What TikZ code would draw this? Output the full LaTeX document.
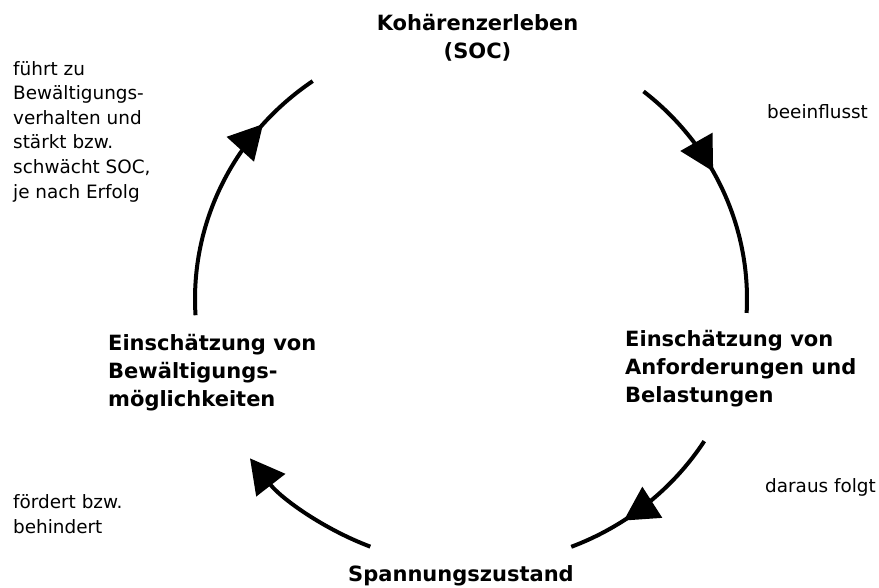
\documentclass[tikz,border=0pt]{standalone}
\usepackage{fontspec}
\setmainfont{DejaVu Sans}
\usetikzlibrary{arrows.meta,decorations.markings}
\tikzset{tri/.tip={Triangle[length=34pt,width=36pt]}}

\begin{document}
\begin{tikzpicture}[x=1pt,y=-1pt,
    head/.style={font=\fontsize{21pt}{28pt}\selectfont\bfseries,inner sep=0pt,align=left},
    note/.style={font=\fontsize{18.4pt}{24.6pt}\selectfont,inner sep=0pt,align=left},
    cyc/.style={line width=4pt},
    midtip/.style={postaction={decorate},decoration={markings,mark=at position #1 with {\arrow{tri}}}}]
  \useasboundingbox (0,0) rectangle (879,587);
  \coordinate (m) at (471,299);
  % the four stations of the cycle
  \node[head,align=center,anchor=base] (soc) at (477.5,58) {Kohärenzerleben\\(SOC)};
  \node[head,anchor=base west] (anf) at (625,402) {Einschätzung von\\Anforderungen und\\Belastungen};
  \node[head,anchor=base] (span) at (461,581) {Spannungszustand};
  \node[head,anchor=base west] (bew) at (108,406) {Einschätzung von\\Bewältigungs-\\möglichkeiten};
  % labels beside the arcs
  \node[note,anchor=base west] (lbeein) at (767,118) {beeinflusst};
  \node[note,anchor=base west] (lfolgt) at (765,492) {daraus folgt};
  \node[note,anchor=base west] (lfoerd) at (13,533) {fördert bzw.\\behindert};
  \node[note,anchor=base west] (lfuehrt) at (13,198) {führt zu\\Bewältigungs-\\verhalten und\\stärkt bzw.\\schwächt SOC,\\je nach Erfolg};
  % arcs round the centre m
  \draw[cyc,midtip=0.42] ([shift={(-51.3:276 and 266)}]m) arc[start angle=-51.3,end angle=3,x radius=276,y radius=266];
  \draw[cyc,midtip=0.66] ([shift={(32.3:276 and 266)}]m) arc[start angle=32.3,end angle=68.7,x radius=276,y radius=266];
  \draw[cyc,-tri] ([shift={(111.4:276 and 266)}]m) arc[start angle=111.4,end angle=143.2,x radius=276,y radius=266];
  \draw[cyc,midtip=0.76] ([shift={(176.5:276 and 266)}]m) arc[start angle=176.5,end angle=235,x radius=276,y radius=266];
\end{tikzpicture}
\end{document}
